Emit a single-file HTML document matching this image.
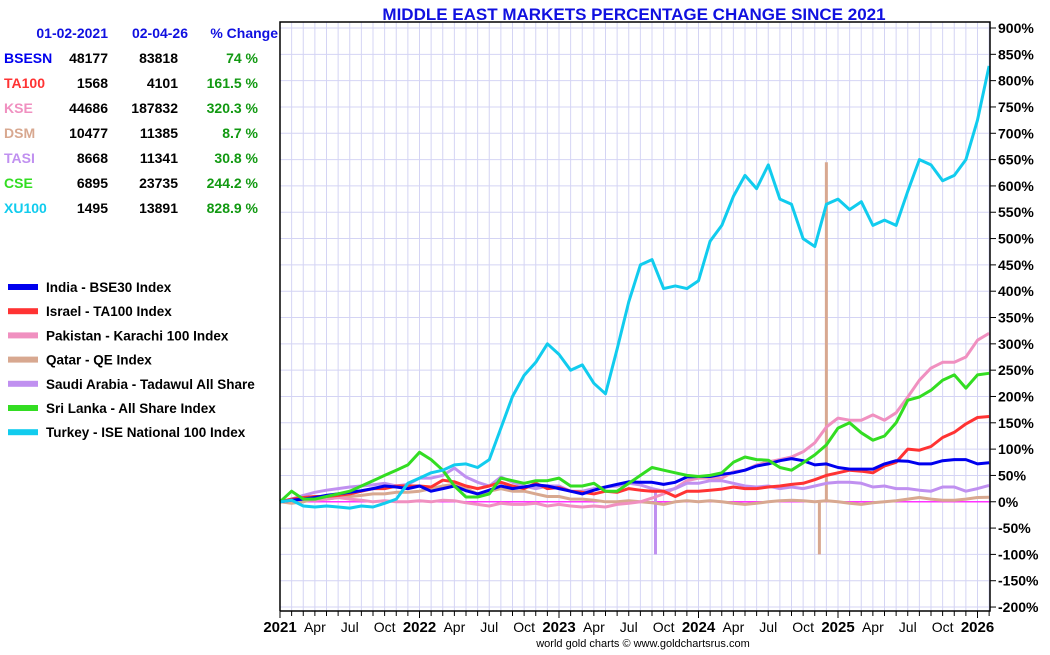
<!DOCTYPE html>
<html><head><meta charset="utf-8"><style>
body{margin:0;background:#fff;width:1050px;height:650px;overflow:hidden;font-family:"Liberation Sans",Arial,sans-serif}
svg text{font-family:"Liberation Sans",Arial,sans-serif}
</style></head><body>
<svg id="c" width="1050" height="650">
<text x="634" y="20" text-anchor="middle" font-size="17" font-weight="bold" fill="#1010e0">MIDDLE EAST MARKETS PERCENTAGE CHANGE SINCE 2021</text>
<g id="grid"></g>
<g id="series"></g>
<g id="axes"></g>
<g id="table"></g>
<g id="legend"></g>
<text x="643" y="647" text-anchor="middle" font-size="11" fill="#000">world gold charts © www.goldchartsrus.com</text>
</svg>
<script>
const yTicks=[-200,-150,-100,-50,0,50,100,150,200,250,300,350,400,450,500,550,600,650,700,750,800,850,900];
const monthLabels=['Apr','Jul','Oct'];
const years=['2021','2022','2023','2024','2025','2026'];
const india=[0,3,5,8,12,15,18,21,25,30,28,25, 30,20,25,30,21,15,22,30,25,28,32,30, 25,20,15,22,28,33,38,37,37,33,37,47, 48,48,52,55,60,68,72,78,82,78,70,72, 65,62,62,62,72,78,77,72,72,78,80,80, 72,74];
const israel=[0,5,8,10,10,12,15,20,25,25,30,30, 30,28,41,38,30,25,30,37,30,25,35,25, 27,20,18,15,20,18,25,22,20,20,10,20, 20,22,24,28,25,25,28,30,33,35,42,50, 55,60,58,55,68,75,100,98,105,122,132,148, 160,162];
const pakistan=[0,3,5,3,5,8,5,3,0,2,0,0, 2,0,3,2,-2,-5,-8,-3,-5,-5,-3,-8, -5,-8,-10,-8,-10,-5,-3,0,7,15,26,40, 45,45,45,57,60,70,76,80,85,95,112,142, 159,155,155,165,155,169,199,231,254,265,265,275, 307,320];
const qatar=[0,-3,0,5,5,8,10,12,15,15,18,18, 20,25,30,33,25,15,20,25,20,20,15,10, 10,5,5,3,0,0,2,0,-2,-5,0,2, 0,2,0,-3,-5,-3,0,2,3,2,0,2, 0,-3,-5,-2,0,2,5,8,5,3,3,5, 8,8.7];
const saudi=[0,5,12,18,22,25,28,30,32,35,30,33, 45,45,50,64,47,37,30,47,37,30,25,30, 30,20,20,25,28,30,35,32,25,20,25,35, 35,40,40,35,30,28,30,25,28,25,30,35, 37,37,35,28,30,25,25,22,20,28,28,20, 25,31];
const srilanka=[0,20,5,5,10,15,20,30,40,50,60,70, 94,80,60,30,9,9,15,45,40,35,40,40, 45,30,30,35,20,20,35,50,65,60,55,50, 48,50,55,75,85,80,79,65,60,74,89,108, 140,150,131,117,125,150,193,199,212,231,241,216, 241,244];
const turkey=[0,3,-8,-10,-8,-10,-12,-8,-10,-3,5,35, 45,55,60,70,72,65,80,140,200,240,265,300, 280,250,260,225,205,290,380,450,460,405,410,405, 420,495,525,580,620,595,640,575,565,500,485,565, 575,555,570,525,535,525,590,650,640,610,620,650, 725,828];
const saudiSpikeMonth=[32.3];const saudiSpikeValue=[-100];
const qatarSpikeMonth=[46.4,47.0];const qatarSpikeValue=[-100,645];
const codes=['BSESN','TA100','KSE','DSM','TASI','CSE','XU100'];
const startVals=['48177','1568','44686','10477','8668','6895','1495'];
const endVals=['83818','4101','187832','11385','11341','23735','13891'];
const changes=['74 %','161.5 %','320.3 %','8.7 %','30.8 %','244.2 %','828.9 %'];
const legendNames=['India - BSE30 Index','Israel - TA100 Index','Pakistan - Karachi 100 Index','Qatar - QE Index','Saudi Arabia - Tadawul All Share','Sri Lanka - All Share Index','Turkey - ISE National 100 Index'];
const colors=['#0000ee','#ff3333','#f090c0','#d8a890','#c090f0','#33dd22','#11ccee'];
const seriesData=[india,israel,pakistan,qatar,saudi,srilanka,turkey];
const seriesKeys=['india','israel','pakistan','qatar','saudi','sri-lanka','turkey'];

const L=280,R=990,T=22,B=611;
const X=m=>L+m*11.625;
const Y=v=>28+(900-v)*0.5264;
const NS='http://www.w3.org/2000/svg';
function mk(tag,attrs,parent){const e=document.createElementNS(NS,tag);for(const k in attrs)e.setAttribute(k,attrs[k]);parent.appendChild(e);return e;}
const grid=document.getElementById('grid'),axes=document.getElementById('axes'),ser=document.getElementById('series');
for(let m=1;m<=61;m++){const g=mk('line',{x1:X(m),x2:X(m),y1:T,y2:B,stroke:'#d4d4f4','stroke-width':1},grid);

}
yTicks.forEach(v=>{const g=mk('line',{x1:L,x2:R,y1:Y(v),y2:Y(v),stroke:'#d4d4f4','stroke-width':1},grid);


const t=mk('line',{x1:R,x2:R+6,y1:Y(v),y2:Y(v),stroke:'#000'},axes);


const lb=mk('text',{x:R+8,y:Y(v)+5,'font-size':14,'font-weight':'bold',fill:'#000'},axes);lb.textContent=v+'%';

});
const z=mk('line',{x1:L,x2:R,y1:Y(0),y2:Y(0),stroke:'#ff33ff','stroke-width':1.5},grid);


// frame
const fr=mk('path',{d:`M${L},${B}V${T}H${R}V${B}H${L}`,fill:'none',stroke:'#000','stroke-width':1.5},axes);


for(let m=0;m<=61;m++){const t=mk('line',{x1:X(m),x2:X(m),y1:B,y2:B+(m%12==0?7:5),stroke:'#000'},axes);

}
years.forEach((y,i)=>{const t=mk('text',{x:X(i*12),y:632,'text-anchor':'middle','font-size':15,'font-weight':'bold'},axes);t.textContent=y;


if(i<5)monthLabels.forEach((ml,j)=>{const u=mk('text',{x:X(i*12+3*(j+1)),y:632,'text-anchor':'middle','font-size':14},axes);u.textContent=ml;

});});
// spikes
function spikes(ms,vs,col,base){ms.forEach((m,i)=>{const bv=base[Math.round(m)];const s=mk('line',{x1:X(m),x2:X(m),y1:Y(bv),y2:Y(vs[i]),stroke:col,'stroke-width':3},ser);

});}
spikes(saudiSpikeMonth,saudiSpikeValue,colors[4],saudi);
spikes(qatarSpikeMonth,qatarSpikeValue,colors[3],qatar);
const order=[3,2,4,1,0,5,6];
order.forEach(i=>{const d=seriesData[i].map((v,m)=>X(m).toFixed(1)+','+Y(v).toFixed(1)).join(' ');
const p=mk('polyline',{points:d,fill:'none',stroke:colors[i],'stroke-width':3,'stroke-linejoin':'round'},ser);

});
// table
const tb=document.getElementById('table');
[['01-02-2021',108],['02-04-26',188],['% Change',278]].forEach(h=>{const t=mk('text',{x:h[1],y:38,'text-anchor':'end','font-size':14,'font-weight':'bold',fill:'#1010e0'},tb);t.textContent=h[0];

});
codes.forEach((c,i)=>{const y=63+i*25;
const a=mk('text',{x:4,y:y,'font-size':14,'font-weight':'bold',fill:colors[i]},tb);a.textContent=c;


const b=mk('text',{x:108,y:y,'text-anchor':'end','font-size':14,'font-weight':'bold'},tb);b.textContent=startVals[i];


const c2=mk('text',{x:178,y:y,'text-anchor':'end','font-size':14,'font-weight':'bold'},tb);c2.textContent=endVals[i];


const d=mk('text',{x:258,y:y,'text-anchor':'end','font-size':14,'font-weight':'bold',fill:'#119911'},tb);d.textContent=changes[i];

});
// legend
const lg=document.getElementById('legend');
legendNames.forEach((n,i)=>{const y=287+i*24.2;
const r=mk('rect',{x:8,y:y-3,width:30,height:6,fill:colors[i]},lg);


const t=mk('text',{x:46,y:y+5,'font-size':13.5,'font-weight':'bold'},lg);t.textContent=n;

});
</script>
</body></html>
